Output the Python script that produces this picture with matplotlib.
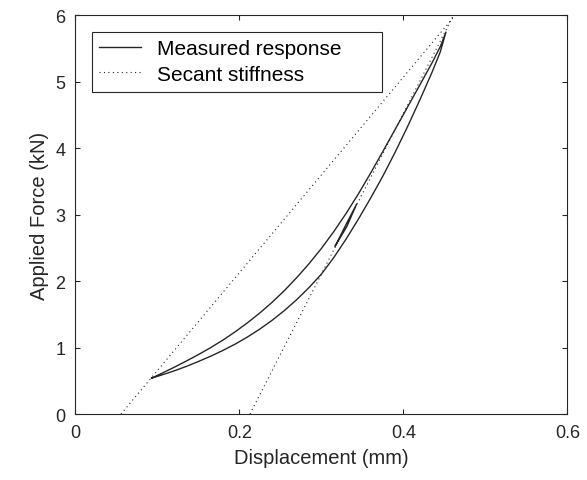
import matplotlib
matplotlib.use("Agg")
import matplotlib.pyplot as plt
from matplotlib.patches import Rectangle

plt.rcParams['font.family'] = ['Liberation Sans', 'DejaVu Sans']

# loading branch (lower)
load_disp = [0.093, 0.105, 0.12, 0.135, 0.15, 0.165, 0.18, 0.195, 0.21, 0.225, 0.24,
             0.255, 0.27, 0.285, 0.30, 0.315, 0.33, 0.345, 0.36, 0.375, 0.39, 0.405,
             0.42, 0.435, 0.445, 0.452]
load_force = [0.54, 0.586, 0.647, 0.715, 0.79, 0.87, 0.957, 1.053, 1.16, 1.279, 1.411,
              1.558, 1.722, 1.904, 2.105, 2.352, 2.63, 2.93, 3.248, 3.581, 3.941, 4.323,
              4.725, 5.145, 5.45, 5.75]

# unloading branch (upper)
unload_disp = [0.452, 0.445, 0.435, 0.42, 0.405, 0.39, 0.375, 0.36, 0.345, 0.33, 0.315,
               0.30, 0.285, 0.27, 0.255, 0.24, 0.225, 0.21, 0.195, 0.18, 0.165, 0.15,
               0.135, 0.12, 0.105, 0.093]
unload_force = [5.75, 5.53, 5.287, 4.951, 4.618, 4.285, 3.952, 3.625, 3.31, 3.016, 2.743,
                2.491, 2.263, 2.053, 1.859, 1.682, 1.521, 1.374, 1.238, 1.113, 0.999,
                0.894, 0.795, 0.70, 0.61, 0.54]

# small inner loop
inner_disp = [0.317, 0.330, 0.343, 0.331, 0.317]
inner_force = [2.53, 2.85, 3.16, 2.82, 2.53]

# secant lines (end points at F=0 and F=6)
secant1_disp = [0.0557, 0.463]
secant2_disp = [0.213, 0.461]
secant_force = [0, 6]

fig = plt.figure(figsize=(5.87, 4.81), dpi=100)
ax = fig.add_axes([0.1283, 0.1372, 0.8382, 0.8285])

line_col = '#262626'
ax.plot(load_disp + unload_disp, load_force + unload_force, color=line_col,
        linewidth=1.0, label='Measured response')
ax.plot(inner_disp, inner_force, color=line_col, linewidth=1.0)
ax.plot(secant1_disp, secant_force, color=line_col, linewidth=0.8,
        linestyle=(0, (1, 3)), label='Secant stiffness')
ax.plot(secant2_disp, secant_force, color=line_col, linewidth=0.8,
        linestyle=(0, (1, 3)))

ax.set_xlim(0, 0.6)
ax.set_ylim(0, 6)
ax.set_xticks([0, 0.2, 0.4, 0.6])
ax.set_xticklabels(['0', '0.2', '0.4', '0.6'])
ax.set_yticks([0, 1, 2, 3, 4, 5, 6])

ax.tick_params(direction='in', length=3.6, width=0.8, top=True, right=True,
               labelsize=13, pad=7, colors='#262626')
for sp in ax.spines.values():
    sp.set_linewidth(0.8)
    sp.set_color('#262626')

ax.set_xlabel('Displacement (mm)', fontsize=14.5, labelpad=5.5, color='#262626')
ax.set_ylabel('Applied Force (kN)', fontsize=14.5, labelpad=4.5, color='#262626')

# legend box drawn separately (wider on the right, like the original)
ax.add_patch(Rectangle((0.0346, 0.8073), 0.5882, 0.1505, transform=ax.transAxes,
                       facecolor='white', edgecolor='#262626', linewidth=0.8,
                       zorder=4))
leg = ax.legend(loc='upper left', bbox_to_anchor=(0.0488, 0.9403), borderaxespad=0,
                frameon=False, fontsize=15, handlelength=2.0, handletextpad=0.77,
                borderpad=0, labelspacing=0.31)
leg.set_zorder(5)

fig.savefig('out.png', dpi=100)
